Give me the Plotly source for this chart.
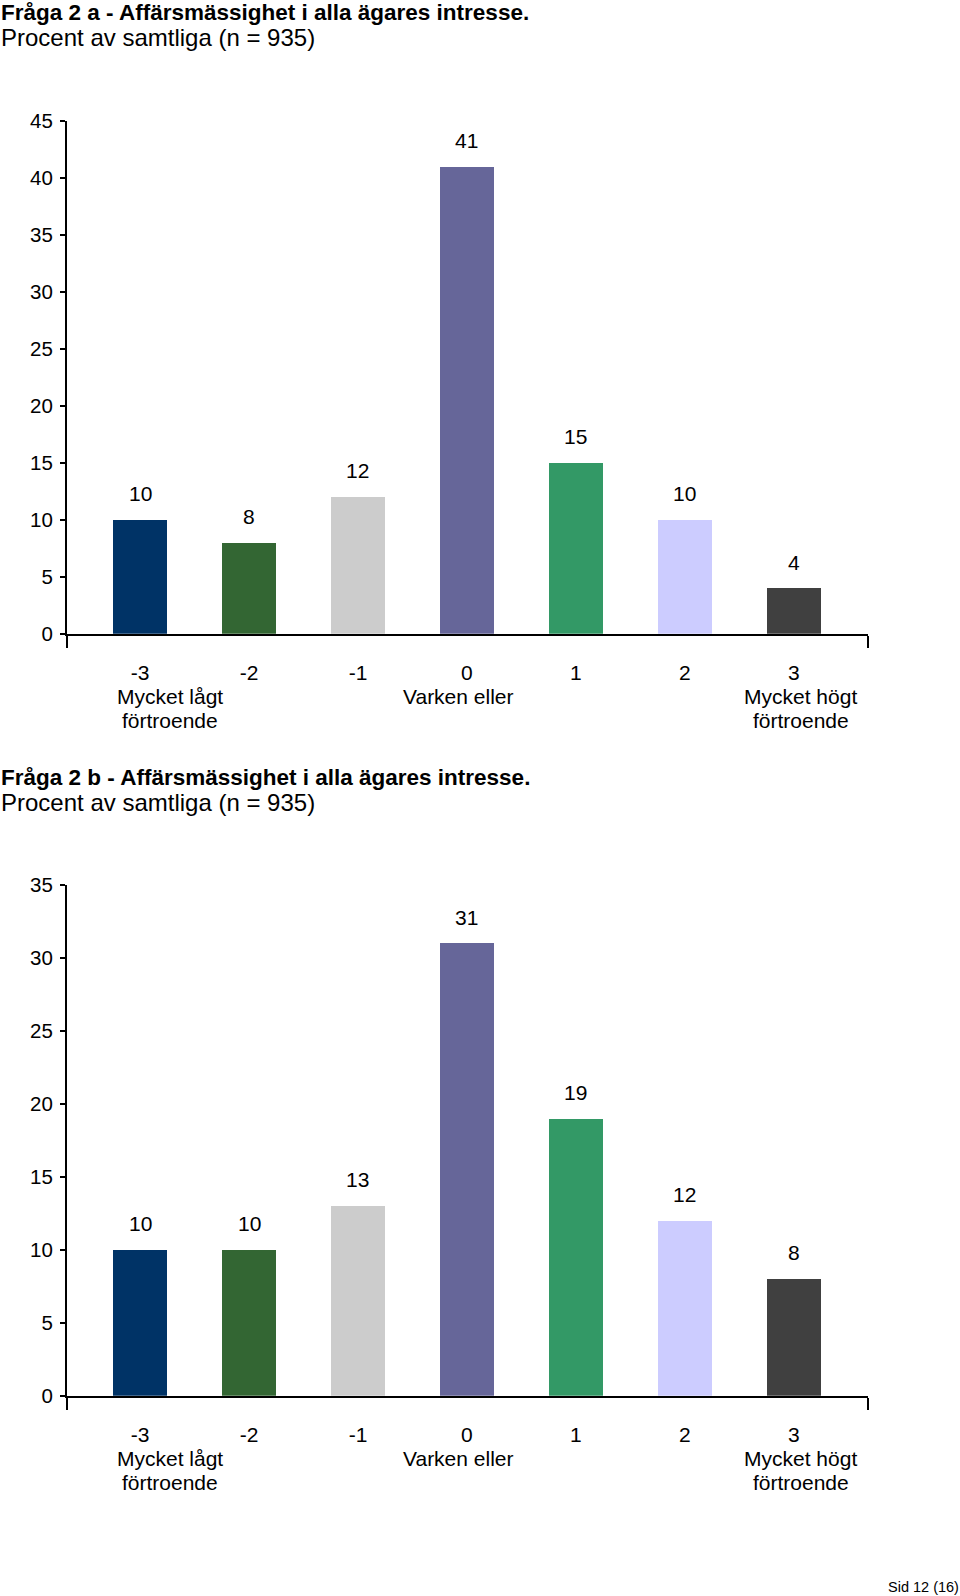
import plotly.graph_objects as go

# ---- data ----
categories = ["-3", "-2", "-1", "0", "1", "2", "3"]
desc_labels = {0: ["Mycket lågt", "förtroende"], 3: ["Varken eller"], 6: ["Mycket högt", "förtroende"]}
values_a = [10, 8, 12, 41, 15, 10, 4]
values_b = [10, 10, 13, 31, 19, 12, 8]
bar_colors = ["#003366", "#336633", "#CCCCCC", "#666699", "#339966", "#CCCCFF", "#404040"]
title_a = ["Fråga 2 a - Affärsmässighet i alla ägares intresse.", "Procent av samtliga (n = 935)"]
title_b = ["Fråga 2 b - Affärsmässighet i alla ägares intresse.", "Procent av samtliga (n = 935)"]
footer = "Sid 12 (16)"

FONT = "Arial, Liberation Sans, sans-serif"
W, H = 960, 1596
xs = list(range(len(categories)))

fig = go.Figure()
fig.add_trace(go.Bar(x=xs, y=values_a, marker=dict(color=bar_colors, line=dict(width=0)),
                     width=0.5, xaxis="x", yaxis="y", showlegend=False, hoverinfo="y"))
fig.add_trace(go.Bar(x=xs, y=values_b, marker=dict(color=bar_colors, line=dict(width=0)),
                     width=0.5, xaxis="x2", yaxis="y2", showlegend=False, hoverinfo="y"))

xrange = [-0.670, 6.68]
xdom = [67 / W, 868 / W]

def xaxis_cfg(anchor):
    return dict(domain=xdom, range=xrange, anchor=anchor, showgrid=False, zeroline=False,
                showline=True, linecolor="black", linewidth=2, automargin=False,
                tickmode="array", tickvals=xs, ticktext=categories, ticks="",
                ticklabelstandoff=19,
                tickfont=dict(family=FONT, size=21, color="black"),
                minor=dict(tickmode="array", tickvals=[xrange[0] + 0.002, xrange[1] - 0.002],
                           ticks="outside", ticklen=12, tickcolor="black", tickwidth=2, showgrid=False),
                fixedrange=True)

def yaxis_cfg(anchor, dom, rmax):
    return dict(domain=dom, range=[0, rmax], anchor=anchor, showgrid=False, zeroline=False,
                showline=True, linecolor="black", linewidth=2, automargin=False,
                tickmode="linear", tick0=0, dtick=5, ticks="outside", ticklen=5,
                tickcolor="black", tickwidth=2, ticklabelstandoff=3,
                tickfont=dict(family=FONT, size=20.5, color="black"), fixedrange=True)

fig.update_layout(
    width=W, height=H, autosize=False,
    margin=dict(l=0, r=0, t=0, b=0, pad=0, autoexpand=False),
    paper_bgcolor="white", plot_bgcolor="white",
    bargap=0,
    xaxis=xaxis_cfg("y"),
    yaxis=yaxis_cfg("x", [(H - 633.7) / H, (H - 121) / H], 45),
    xaxis2=xaxis_cfg("y2"),
    yaxis2=yaxis_cfg("x2", [(H - 1395.7) / H, (H - 884.6) / H], 35),
    font=dict(family=FONT, color="black"),
)

ann = []
for xa, ya, vals in (("x", "y", values_a), ("x2", "y2", values_b)):
    for i, v in enumerate(vals):
        ann.append(dict(x=i, y=v, xref=xa, yref=ya, text=str(v), showarrow=False,
                        yshift=26, yanchor="middle", font=dict(family=FONT, size=21, color="black")))
    for i, lines in desc_labels.items():
        shift = {0: 30, 3: -8, 6: 7}[i]
        for k, line in enumerate(lines):
            ann.append(dict(x=i, y=0, xref=xa, yref=ya + " domain", text=line, showarrow=False,
                            xshift=shift, yshift=-(63 + 24 * k), yanchor="middle",
                            font=dict(family=FONT, size=21, color="black")))

for titles, y0 in ((title_a, 12.5), (title_b, 777.5)):
    for k, t in enumerate(titles):
        txt = "<b>%s</b>" % t if k == 0 else t
        size = 22.5 if k == 0 else 24
        ann.append(dict(x=0, y=(H - (y0 + 25 * k)) / H, xref="paper", yref="paper", text=txt,
                        showarrow=False, xanchor="left", yanchor="middle", xshift=-1,
                        font=dict(family=FONT, size=size, color="black")))

ann.append(dict(x=1, y=(H - 1586.5) / H, xref="paper", yref="paper", text=footer, showarrow=False,
                xanchor="right", yanchor="middle", xshift=1, font=dict(family=FONT, size=14.5, color="black")))

fig.update_layout(annotations=ann)
fig.write_html("out.html", config={"displayModeBar": False},
               post_script="document.body.style.margin='0';document.body.style.overflow='hidden';")
